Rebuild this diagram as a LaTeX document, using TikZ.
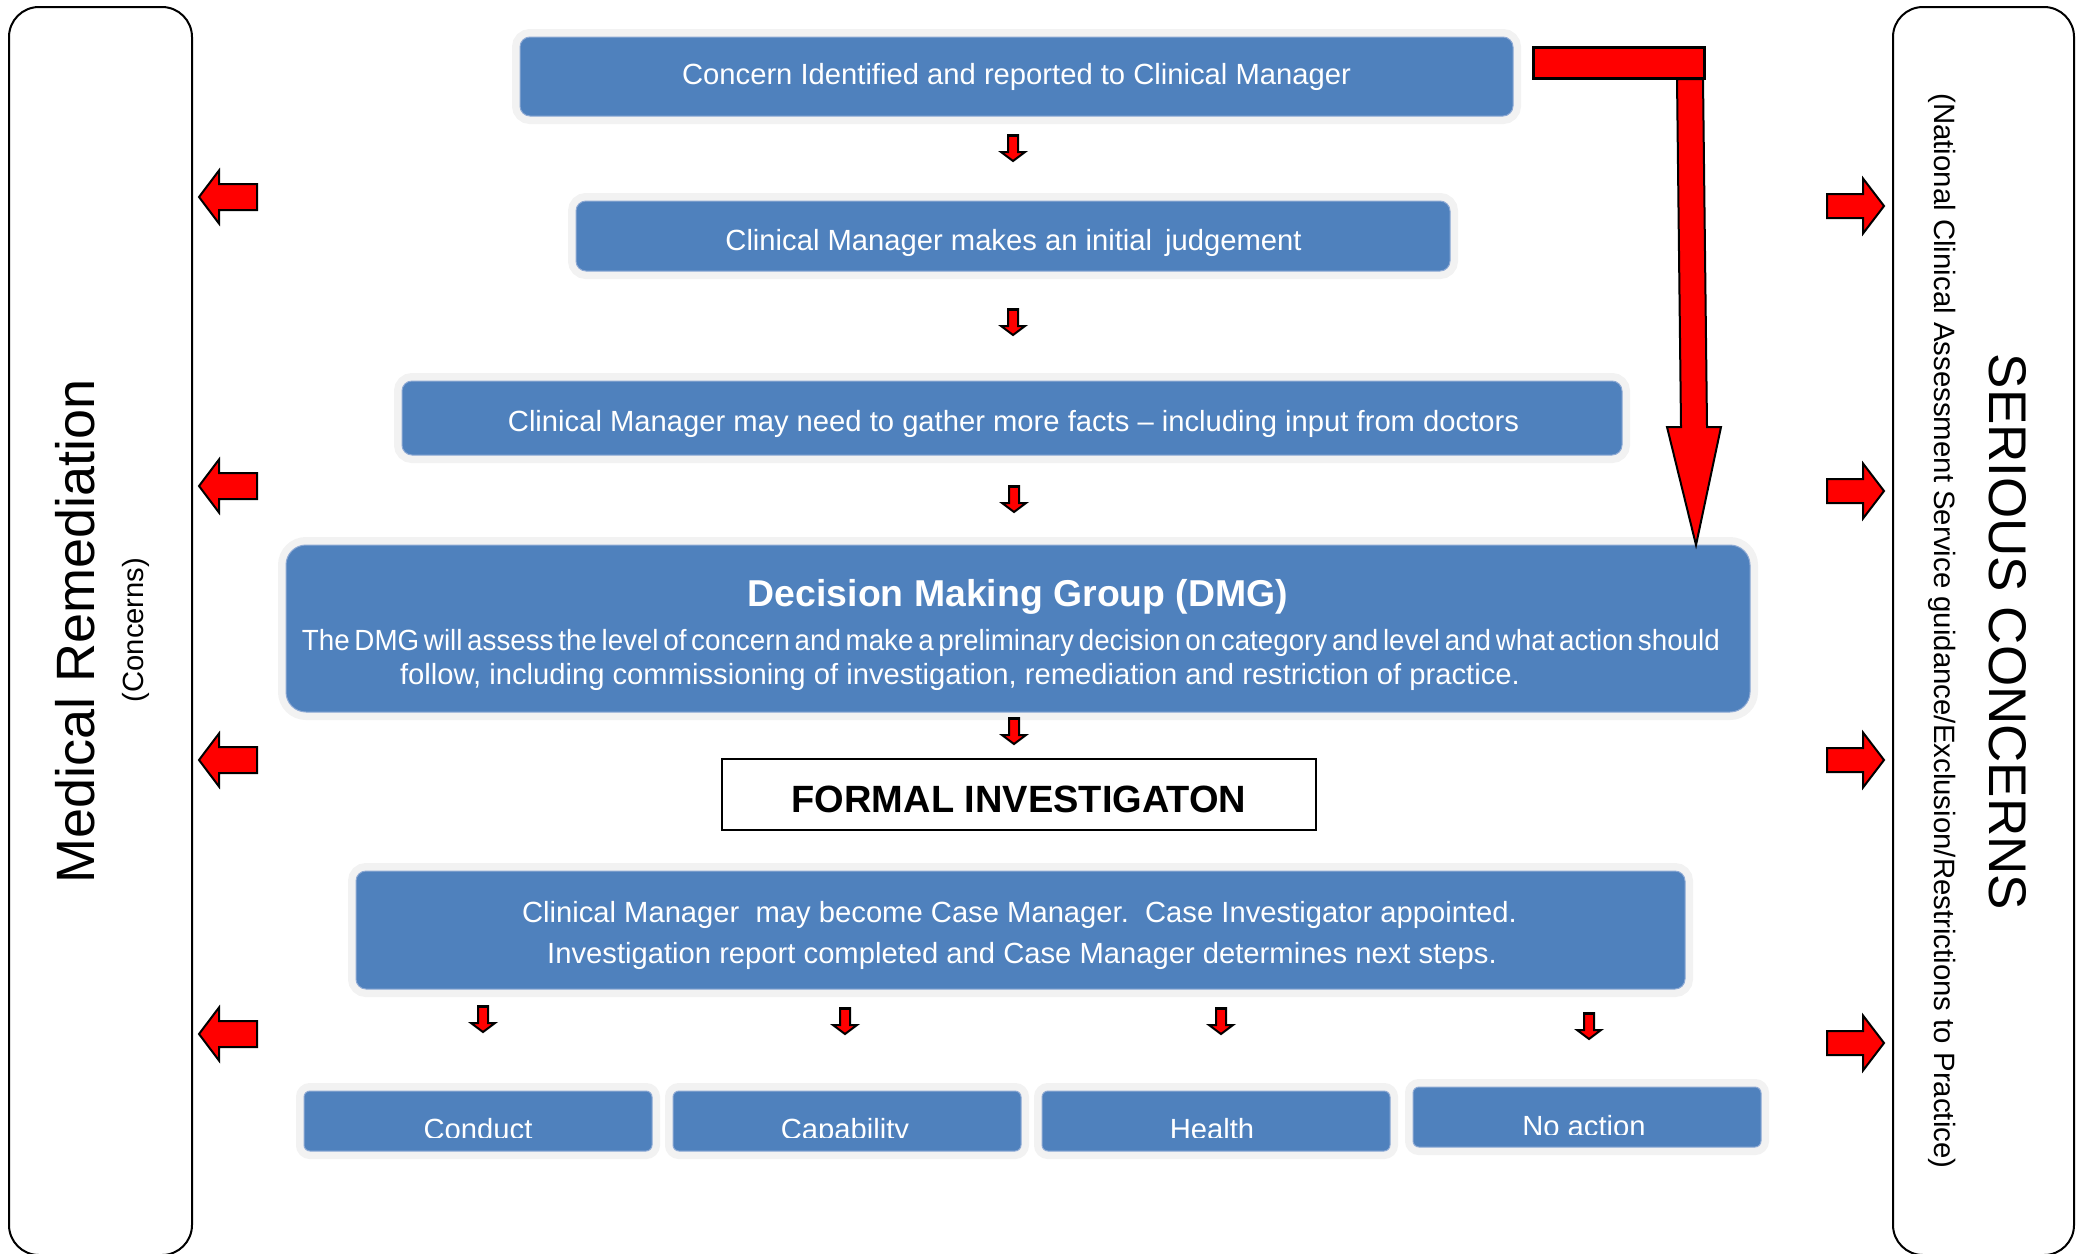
\documentclass[tikz,border=0pt]{standalone}
\usepackage{graphicx}
\usepackage{fontspec}
\setmainfont{Liberation Sans}
\usetikzlibrary{calc}
\definecolor{boxblue}{HTML}{4F81BD}
\definecolor{boxedge}{HTML}{8DA9D4}
\definecolor{halo}{HTML}{F2F2F2}
\definecolor{arrred}{HTML}{FF0000}
\newcommand{\bodyfont}{\fontsize{14.6}{17}\selectfont}
\begin{document}
\begin{tikzpicture}[x=0.5pt,y=-0.5pt,
  bluebox/.style={fill=boxblue, draw=boxedge, line width=0.5pt, rounded corners=5pt,
    inner sep=0pt, preaction={draw=halo, line width=8pt}},
  whitetext/.style={text=white, font=\bodyfont, inner sep=0pt, anchor=base},
  redshape/.style={fill=arrred, draw=black, line width=1pt, line join=miter},
  panel/.style={draw=black, line width=1pt, rounded corners=15pt},
  downarr/.pic={\draw[redshape] (-5,0) -- (5,0) -- (5,17) -- (12,17) -- (0,26) -- (-12,17) -- (-5,17) -- cycle;
                \draw[black, line width=1.2pt] (-5,0.5) -- (5,0.5);},
  leftarr/.pic={\draw[redshape] (0,0) -- (20,-26.5) -- (20,-13) -- (58,-13) -- (58,13) -- (20,13) -- (20,26.5) -- cycle;},
  rightarr/.pic={\draw[redshape] (0,0) -- (-21,-27.5) -- (-21,-12) -- (-57,-12) -- (-57,12) -- (-21,12) -- (-21,27.5) -- cycle;},
]
\useasboundingbox (0,0) rectangle (2076,1253);

% side panels
\draw[panel] (9,7) rectangle (192,1255);
\draw[panel] (1893,7) rectangle (2074,1255);
\node[rotate=90, anchor=base, inner sep=0pt, font=\fontsize{27}{30}\selectfont] (medrem) at (94,631) {Medical Remediation};
\node[rotate=90, inner sep=0pt, font=\bodyfont] (concerns) at (136,630) {(Concerns)};
\node[rotate=-90, inner sep=0pt, font=\fontsize{26.5}{30}\selectfont] (serious) at (2008,632) {SERIOUS CONCERNS};
\node[rotate=-90, inner sep=0pt, font=\fontsize{14.7}{17}\selectfont] (ncas) at (1942,631) {(National Clinical Assessment Service guidance/Exclusion/Restrictions to Practice)};

% main flow
\node[bluebox, minimum width=496.5pt, minimum height=39.5pt] (concern) at (1016.5,76.5) {};
\node[whitetext] (concerntxt) at (1016.5,84) {Concern Identified and reported to Clinical Manager};

\node[bluebox, minimum width=437pt, minimum height=35pt] (judge) at (1013,236) {};
\node[whitetext] (judgetxt) at (1013.5,250.5) {Clinical Manager makes an initial\ \,judgement};

\node[bluebox, minimum width=610pt, minimum height=37pt] (facts) at (1012,418) {};
\node[whitetext] (factstxt) at (1013.5,431.5) {Clinical Manager may need to gather more facts -- including input from doctors};

\node[bluebox, rounded corners=10pt, minimum width=732pt, minimum height=83.5pt] (dmg) at (1018,628.5) {};
\node[whitetext, font=\bfseries\fontsize{18.7}{22}\selectfont] (dmgtitle) at (1018,606.5) {Decision Making Group (DMG)};
\node[whitetext] (dmgline1) at (1011,650.5)
  {\resizebox{709pt}{\height}{\spaceskip=0.17em\relax The DMG will assess the level of concern and make a preliminary decision on category and level and what action should}};
\node[whitetext] (dmgline2) at (960,684.5)
  {follow, including commissioning of investigation, remediation and restriction of practice.};

\node[draw=black, line width=0.8pt, fill=white, minimum width=297pt, minimum height=35.5pt] (formal) at (1019,794.5) {};
\node[anchor=base, inner sep=0pt, font=\bfseries\fontsize{19}{22}\selectfont] (formaltxt) at (1019,812) {FORMAL INVESTIGATON};

\node[bluebox, minimum width=664.5pt, minimum height=59pt] (casemgr) at (1020.5,930) {};
\node[whitetext] (casemgr1) at (1019.5,922.5) {Clinical Manager\ \ may become Case Manager.\ \ Case Investigator appointed.};
\node[whitetext] (casemgr2) at (1022,963.5) {Investigation report completed and Case Manager determines next steps.};

% outcome boxes
\node[bluebox, rounded corners=3pt, minimum width=174pt, minimum height=30pt] (conduct) at (478,1121) {};
\node[bluebox, rounded corners=3pt, minimum width=174pt, minimum height=30pt] (capability) at (847,1121) {};
\node[bluebox, rounded corners=3pt, minimum width=174pt, minimum height=30pt] (health) at (1216,1121) {};
\node[bluebox, rounded corners=3pt, minimum width=174pt, minimum height=30pt] (noaction) at (1587,1117) {};
\begin{scope}
  \clip (290,1080) rectangle (1400,1137);
  \node[whitetext] (conducttxt) at (478,1139) {Conduct};
  \node[whitetext] (capabilitytxt) at (845,1139) {Capability};
  \node[whitetext] (healthtxt) at (1212,1139) {Health};
\end{scope}
\begin{scope}
  \clip (1400,1076) rectangle (1770,1134);
  \node[whitetext] (noactiontxt) at (1584,1136) {No action};
\end{scope}

% down arrows between steps
\pic at (1013,135) {downarr};
\pic at (1013,309) {downarr};
\pic at (1014,486) {downarr};
\pic at (1014,718) {downarr};
\pic at (483,1006) {downarr};
\pic at (845,1008) {downarr};
\pic at (1221,1008) {downarr};
\pic at (1589,1013) {downarr};

% direct route to the DMG
\draw[redshape, line width=1.5pt] (1533,47) rectangle (1704,78);
\draw[redshape] (1677,79) -- (1703,79) -- (1707,427) -- (1721,427) -- (1696,545) -- (1667,427) -- (1681,427) -- cycle;

% side arrows
\foreach \yy in {197,486,760,1034} \pic at (199,\yy) {leftarr};
\foreach \yy in {206,491,760,1043} \pic at (1884,\yy) {rightarr};
\end{tikzpicture}
\end{document}
